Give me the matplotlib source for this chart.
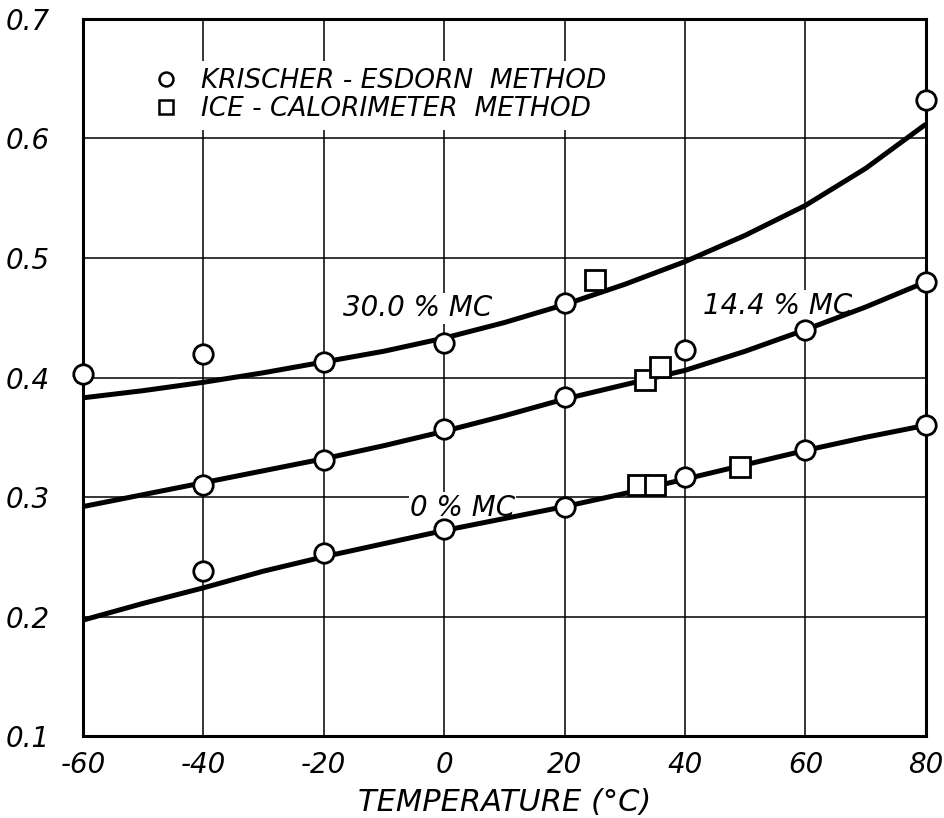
import matplotlib
matplotlib.use("Agg")
import matplotlib.pyplot as plt

# smooth curves, every 10 degC
temp = [-60, -50, -40, -30, -20, -10, 0, 10, 20, 30, 40, 50, 60, 70, 80]
curve_30 = [0.383, 0.389, 0.396, 0.404, 0.413, 0.422, 0.433, 0.446, 0.461,
            0.478, 0.497, 0.519, 0.544, 0.575, 0.612]
curve_14 = [0.292, 0.302, 0.312, 0.322, 0.332, 0.343, 0.355, 0.368, 0.382,
            0.394, 0.406, 0.422, 0.440, 0.459, 0.480]
curve_0 = [0.197, 0.211, 0.224, 0.238, 0.250, 0.261, 0.272, 0.282, 0.292,
           0.303, 0.315, 0.327, 0.339, 0.350, 0.360]

# Krischer-Esdorn points (circles)
ke30_x = [-60, -40, -20, 0, 20, 80]
ke30_y = [0.403, 0.420, 0.413, 0.429, 0.462, 0.632]
ke14_x = [-40, -20, 0, 20, 40, 60, 80]
ke14_y = [0.310, 0.331, 0.357, 0.384, 0.423, 0.440, 0.480]
ke0_x = [-40, -20, 0, 20, 40, 60, 80]
ke0_y = [0.238, 0.253, 0.273, 0.292, 0.317, 0.339, 0.360]

# ice-calorimeter points (squares)
ice_x = [25, 33.4, 35.8, 32.2, 35.0, 49.2]
ice_y = [0.482, 0.398, 0.409, 0.310, 0.310, 0.325]

xticks = [-60, -40, -20, 0, 20, 40, 60, 80]
yticks = [0.1, 0.2, 0.3, 0.4, 0.5, 0.6, 0.7]

plt.rcParams['font.family'] = ['DejaVu Sans']
plt.rcParams['font.style'] = 'italic'

fig = plt.figure(figsize=(9.45, 8.18), dpi=100)
ax = fig.add_axes([0.0878, 0.1002, 0.892, 0.8766])

for c in [curve_30, curve_14, curve_0]:
    ax.plot(temp, c, color='black', lw=3.6, solid_capstyle='butt', zorder=2)

mk = dict(color='black', mfc='white', mec='black', mew=2.0, ms=14,
          ls='none', zorder=3, clip_on=False)
ax.plot(ke30_x, ke30_y, marker='o', **mk)
ax.plot(ke14_x, ke14_y, marker='o', **mk)
ax.plot(ke0_x, ke0_y, marker='o', **mk)
ax.plot(ice_x, ice_y, marker='s', **mk)

# legend entries
h1, = ax.plot([], [], marker='o', mfc='white', mec='black', mew=1.8, ms=10,
              ls='none', label='KRISCHER - ESDORN  METHOD')
h2, = ax.plot([], [], marker='s', mfc='white', mec='black', mew=1.8, ms=10,
              ls='none', label='ICE - CALORIMETER  METHOD')
leg = ax.legend(handles=[h1, h2], loc='upper left',
                bbox_to_anchor=(0.074, 0.942), fontsize=19, frameon=True,
                handlelength=1.0, handletextpad=0.8, labelspacing=0.05,
                borderpad=0.3, borderaxespad=0)
leg.get_frame().set_facecolor('white')
leg.get_frame().set_edgecolor('none')
leg.get_frame().set_alpha(1)

tbox = dict(facecolor='white', edgecolor='none', pad=1)
ax.text(-16.8, 0.458, '30.0 % MC', fontsize=20, va='center', ha='left',
        bbox=tbox, zorder=1.5)
ax.text(43, 0.46, '14.4 % MC', fontsize=20, va='center', ha='left',
        bbox=tbox, zorder=1.5)
ax.text(-5.7, 0.291, '0 % MC', fontsize=20, va='center', ha='left',
        bbox=tbox, zorder=1.5)

ax.set_xlim(-60, 80)
ax.set_ylim(0.1, 0.7)
ax.set_xticks(xticks)
ax.set_yticks(yticks)
ax.set_xticklabels([str(t) for t in xticks], fontsize=20)
ax.set_yticklabels([f'{t:.1f}' for t in yticks], fontsize=20)
ax.tick_params(length=0, pad=11)
ax.tick_params(axis='y', pad=24)
ax.grid(True, color='black', lw=1.1)
ax.set_axisbelow(True)
for s in ax.spines.values():
    s.set_linewidth(2.2)
ax.set_xlabel('TEMPERATURE (°C)', fontsize=22, labelpad=6)

fig.savefig('out.png', dpi=100)
